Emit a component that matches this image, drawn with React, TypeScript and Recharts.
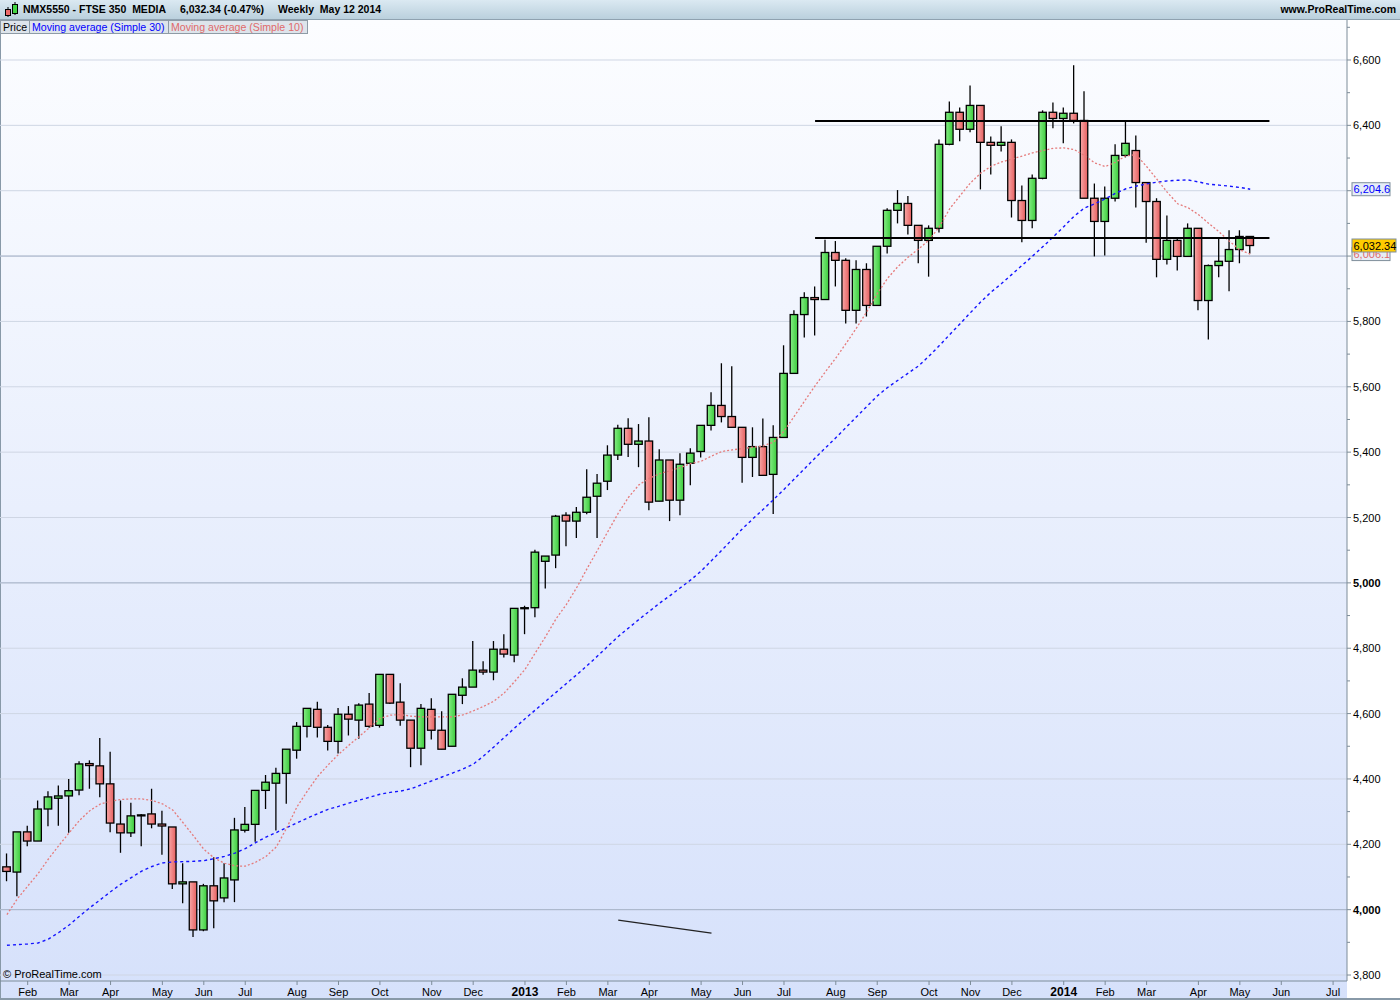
import React from 'react';
import { ComposedChart, Bar, Line, XAxis, YAxis, CartesianGrid, ReferenceLine } from 'recharts';

// weekly candles, first week starts Monday Jan 23 2012
const FIRST_WEEK = '2012-01-23';

const opens = [
  4131, 4115, 4238, 4210, 4308, 4341, 4348, 4366, 4447, 4440,
  4385, 4262, 4235, 4289, 4293, 4262, 4253, 4079, 4085, 3938,
  4073, 4036, 4091, 4243, 4261, 4365, 4387, 4417, 4488, 4561,
  4613, 4558, 4515, 4598, 4580, 4629, 4564, 4720, 4635, 4580,
  4494, 4613, 4549, 4500, 4656, 4681, 4733, 4727, 4797, 4779,
  4922, 4924, 5066, 5085, 5207, 5189, 5216, 5265, 5311, 5391,
  5473, 5424, 5434, 5250, 5376, 5253, 5366, 5402, 5482, 5543,
  5509, 5476, 5384, 5417, 5332, 5445, 5641, 5821, 5873, 5867,
  6011, 5987, 5834, 5959, 5849, 6030, 6140, 6161, 6094, 6048,
  6085, 6342, 6440, 6388, 6461, 6348, 6339, 6348, 6170, 6109,
  6238, 6440, 6421, 6437, 6415, 6177, 6106, 6177, 6308, 6323,
  6225, 6167, 5990, 6048, 5999, 6085, 5864, 5971, 5984, 6020,
  6060,
];
const highs = [
  4172, 4238, 4257, 4334, 4362, 4380, 4400, 4454, 4457, 4525,
  4483, 4334, 4327, 4293, 4370, 4303, 4253, 4142, 4085, 4079,
  4160, 4142, 4281, 4314, 4365, 4412, 4434, 4491, 4574, 4616,
  4636, 4565, 4617, 4623, 4632, 4663, 4720, 4720, 4693, 4580,
  4629, 4647, 4607, 4659, 4708, 4822, 4760, 4822, 4843, 4922,
  4930, 5101, 5082, 5208, 5216, 5232, 5348, 5333, 5421, 5484,
  5504, 5486, 5507, 5409, 5376, 5397, 5412, 5482, 5583, 5672,
  5663, 5476, 5476, 5503, 5482, 5727, 5834, 5889, 5907, 6050,
  6046, 5993, 5987, 5978, 6030, 6146, 6202, 6184, 6094, 6094,
  6357, 6473, 6455, 6522, 6461, 6366, 6397, 6357, 6216, 6250,
  6446, 6470, 6455, 6584, 6504, 6222, 6213, 6342, 6412, 6369,
  6225, 6177, 6124, 6054, 6100, 6085, 5974, 6054, 6079, 6079,
  6060,
];
const lows = [
  4087, 4041, 4194, 4210, 4255, 4257, 4235, 4350, 4370, 4344,
  4237, 4174, 4222, 4194, 4249, 4168, 4063, 4020, 3916, 3934,
  3943, 4023, 4023, 4236, 4208, 4308, 4242, 4324, 4462, 4527,
  4527, 4487, 4478, 4533, 4523, 4557, 4557, 4629, 4563, 4436,
  4442, 4521, 4491, 4500, 4629, 4681, 4719, 4702, 4772, 4757,
  4843, 4895, 4983, 5045, 5112, 5137, 5210, 5137, 5284, 5376,
  5385, 5354, 5222, 5250, 5189, 5207, 5299, 5384, 5466, 5491,
  5476, 5306, 5324, 5329, 5211, 5445, 5641, 5751, 5757, 5867,
  5907, 5794, 5794, 5815, 5849, 6008, 6100, 6066, 5978, 5937,
  6072, 6339, 6351, 6379, 6204, 6250, 6320, 6118, 6042, 6085,
  6235, 6391, 6345, 6406, 6177, 5999, 6002, 6167, 6302, 6149,
  6041, 5935, 5974, 5956, 5999, 5834, 5745, 5935, 5892, 5978,
  6008,
];
const closes = [
  4117, 4238, 4210, 4308, 4345, 4348, 4364, 4446, 4441, 4385,
  4265, 4235, 4287, 4290, 4262, 4256, 4079, 4085, 3938, 4073,
  4027, 4097, 4244, 4261, 4365, 4390, 4417, 4491, 4561, 4616,
  4558, 4515, 4598, 4583, 4626, 4561, 4720, 4632, 4580, 4494,
  4616, 4549, 4491, 4659, 4681, 4733, 4727, 4797, 4782, 4922,
  4924, 5094, 5082, 5204, 5189, 5216, 5262, 5305, 5391, 5473,
  5424, 5434, 5247, 5376, 5253, 5363, 5397, 5482, 5543, 5509,
  5476, 5384, 5417, 5329, 5445, 5641, 5821, 5873, 5867, 6011,
  5987, 5834, 5959, 5849, 6030, 6140, 6161, 6094, 6048, 6085,
  6342, 6440, 6388, 6461, 6348, 6339, 6348, 6170, 6109, 6238,
  6440, 6421, 6437, 6415, 6177, 6106, 6177, 6308, 6345, 6225,
  6167, 5990, 6048, 5999, 6085, 5864, 5971, 5984, 6020, 6060,
  6032.34,
];
// moving averages
const sma30 = [
  3891, 3893, 3895, 3898, 3910, 3930, 3953, 3980, 4006, 4030,
  4055, 4078, 4098, 4118, 4132, 4143, 4146, 4147, 4148, 4150,
  4156, 4163, 4173, 4187, 4205, 4222, 4236, 4251, 4266, 4280,
  4294, 4307, 4316, 4326, 4335, 4344, 4353, 4359, 4363, 4370,
  4382, 4394, 4406, 4418, 4430, 4445, 4470, 4498, 4527, 4556,
  4584, 4611, 4638, 4665, 4692, 4719, 4747, 4776, 4806, 4836,
  4862, 4888, 4913, 4938, 4961, 4985, 5009, 5036, 5068, 5100,
  5133, 5166, 5196, 5225, 5255, 5286, 5318, 5350, 5382, 5413,
  5444, 5476, 5508, 5540, 5572, 5598, 5620, 5642, 5664, 5694,
  5726, 5760, 5793, 5827, 5860, 5890, 5916, 5944, 5972, 6000,
  6029, 6059, 6090, 6122, 6147, 6160, 6175, 6192, 6206, 6214,
  6221, 6226, 6230, 6232, 6233, 6227, 6220, 6217, 6214, 6210,
  6204.6,
];
const sma10 = [
  3985, 4033, 4072, 4110, 4155, 4196, 4235, 4273, 4303, 4323,
  4332, 4337, 4339, 4339, 4334, 4324, 4305, 4266, 4226, 4185,
  4158, 4142, 4134, 4133, 4145, 4163, 4192, 4250, 4315, 4363,
  4408, 4443, 4475, 4503, 4530, 4557, 4585, 4595, 4597, 4592,
  4590, 4590, 4590, 4590, 4596, 4608, 4622, 4638, 4663, 4698,
  4735, 4786, 4836, 4890, 4934, 4986, 5044, 5100, 5157, 5213,
  5262, 5300, 5320, 5334, 5343, 5353, 5365, 5372, 5388, 5402,
  5407, 5411, 5415, 5419, 5431, 5464, 5510, 5557, 5603, 5646,
  5688, 5733, 5780, 5830, 5885, 5932, 5968, 5997, 6022, 6049,
  6090, 6145, 6185, 6224, 6254, 6275, 6288, 6297, 6306, 6316,
  6323, 6330, 6331, 6326, 6308, 6285, 6274, 6287, 6307, 6310,
  6274, 6235, 6195, 6160, 6148, 6127, 6100, 6074, 6045, 6019,
  6006.1,
];

const monthTickDates = [
  '2012-02-06', '2012-03-05', '2012-04-02', '2012-05-07', '2012-06-04', '2012-07-02',
  '2012-08-06', '2012-09-03', '2012-10-01', '2012-11-05', '2012-12-03', '2013-01-07',
  '2013-02-04', '2013-03-04', '2013-04-01', '2013-05-06', '2013-06-03', '2013-07-01',
  '2013-08-05', '2013-09-02', '2013-10-07', '2013-11-04', '2013-12-02', '2014-01-06',
  '2014-02-03', '2014-03-03', '2014-04-07', '2014-05-05', '2014-06-02', '2014-07-07',
];
const monthTickLabels = [
  'Feb', 'Mar', 'Apr', 'May', 'Jun', 'Jul', 'Aug', 'Sep', 'Oct', 'Nov', 'Dec', '2013',
  'Feb', 'Mar', 'Apr', 'May', 'Jun', 'Jul', 'Aug', 'Sep', 'Oct', 'Nov', 'Dec', '2014',
  'Feb', 'Mar', 'Apr', 'May', 'Jun', 'Jul',
];

const priceTicks = [
  3800, 3900, 4000, 4100, 4200, 4300, 4400, 4500, 4600, 4700, 4800, 4900, 5000, 5100,
  5200, 5300, 5400, 5500, 5600, 5700, 5800, 5900, 6000, 6100, 6200, 6300, 6400, 6500, 6600, 6700,
];
const gridLevels = [3800, 4000, 4200, 4400, 4600, 4800, 5000, 5200, 5400, 5600, 5800, 6000, 6200, 6400, 6600];
const strongLevels = [4000, 5000, 6000];

// drawn lines
const resistance = 6413;
const support = 6055;
const levelFrom = '2013-07-22';
const levelTo = '2014-05-25';
const trendFrom = { date: '2013-03-11', price: 3968 };
const trendTo = { date: '2013-05-13', price: 3928 };

const lastClose = 6032.34;
const lastSma30 = 6204.6;
const lastSma10 = 6006.1;
const tagValues = [lastClose, lastSma30, lastSma10];

const DAY0 = Date.parse('2012-01-01');
const toDay = (s: string) => (Date.parse(s) - DAY0) / 86400000;

const firstDay = toDay(FIRST_WEEK);
const candles = opens.map((o, i) => ({
  day: firstDay + i * 7,
  open: o,
  high: highs[i],
  low: lows[i],
  close: closes[i],
  range: [lows[i], highs[i]],
  ma30: sma30[i],
  ma10: sma10[i],
}));
const monthTicks = monthTickDates.map(toDay);

const FONT = '"Liberation Sans", Arial, sans-serif';
const AXIS = '#7d8c99';

const Candle = (props: any) => {
  const { x, y, width, height, payload } = props;
  if (x == null || y == null) return null;
  const { open, close, high, low } = payload;
  const top = Math.min(y, y + height);
  const h = Math.abs(height);
  const span = high - low || 1;
  const py = (v: number) => top + ((high - v) / span) * h;
  const cx = x + width / 2;
  const up = close >= open;
  const bTop = py(Math.max(open, close));
  const bBot = py(Math.min(open, close));
  return (
    <g>
      <line x1={cx} x2={cx} y1={top} y2={top + h} stroke="#000" strokeWidth={1.3} />
      <rect
        x={x}
        y={bTop}
        width={width}
        height={Math.max(bBot - bTop, 1)}
        fill={up ? 'url(#candleUp)' : 'url(#candleDown)'}
        stroke="#000"
        strokeWidth={1.3}
      />
    </g>
  );
};

const MonthTick = ({ x, y, payload }: any) => {
  const idx = monthTicks.indexOf(payload.value);
  const label = monthTickLabels[idx] ?? '';
  const isYear = /^\d{4}$/.test(label);
  return (
    <g>
      <line x1={x} x2={x} y1={y} y2={y + 4} stroke={AXIS} />
      <text
        x={x}
        y={y + 15}
        textAnchor="middle"
        fontFamily={FONT}
        fontSize={isYear ? 12 : 11}
        fontWeight={isYear ? 'bold' : 'normal'}
        fill="#000"
      >
        {label}
      </text>
    </g>
  );
};

const PriceTick = ({ x, y, payload }: any) => {
  const v = payload.value;
  const major = v % 200 === 0;
  // labels sitting under a last-value tag are covered in the original
  const covered = tagValues.some((t) => Math.abs(t - v) < 25);
  return (
    <g>
      <line x1={x} x2={x + (major ? 4 : 3)} y1={y} y2={y} stroke={AXIS} />
      {major && !covered && (
        <text
          x={x + 6}
          y={y + 4}
          fontFamily={FONT}
          fontSize={11}
          fontWeight={v % 1000 === 0 ? 'bold' : 'normal'}
          fill="#000"
        >
          {v.toLocaleString('en-US')}
        </text>
      )}
    </g>
  );
};

const PriceTag = ({ viewBox, text, fill, color, w }: any) => {
  if (!viewBox) return null;
  const x = viewBox.x + viewBox.width + 5;
  const y = viewBox.y;
  return (
    <g>
      <rect x={x} y={y - 6.5} width={w} height={13} fill={fill} stroke="#7f8e9b" />
      <text x={x + 1.5} y={y + 4} fontFamily={FONT} fontSize={11} fill={color}>
        {text}
      </text>
    </g>
  );
};

const legendBox: React.CSSProperties = {
  position: 'absolute',
  top: 20,
  height: 14,
  border: '1px solid #8e9ba6',
  background: '#dde4eb',
  fontSize: 10.6,
  lineHeight: '12px',
  paddingLeft: 2,
  boxSizing: 'border-box',
  whiteSpace: 'pre',
  overflow: 'hidden',
};

export default function App() {
  return (
    <div style={{ position: 'absolute', left: 0, top: 0, width: 1400, height: 1000, fontFamily: FONT, overflow: 'hidden', background: '#fff' }}>
      {/* plot background */}
      <div
        style={{
          position: 'absolute', left: 0, top: 20, width: 1347, height: 978,
          background: 'linear-gradient(#fcfdff, #d6e1fb)',
        }}
      />
      <div style={{ position: 'absolute', left: 0, top: 20, width: 1, height: 980, background: '#8899a8' }} />
      <div style={{ position: 'absolute', left: 0, top: 998, width: 1400, height: 2, background: '#8899a8' }} />

      <div style={{ position: 'absolute', left: 0, top: 0 }}>
        <ComposedChart width={1400} height={1000} data={candles} margin={{ top: 20, right: 0, bottom: 0, left: 0 }}>
          <defs>
            <linearGradient id="candleUp" x1="0" y1="0" x2="1" y2="0">
              <stop offset="0%" stopColor="#86ee86" />
              <stop offset="100%" stopColor="#3ccb3c" />
            </linearGradient>
            <linearGradient id="candleDown" x1="0" y1="0" x2="1" y2="0">
              <stop offset="0%" stopColor="#f8a8a8" />
              <stop offset="100%" stopColor="#e65f5f" />
            </linearGradient>
          </defs>
          <CartesianGrid vertical={false} horizontalValues={gridLevels} stroke="#cfd6e4" />
          <CartesianGrid vertical={false} horizontalValues={strongLevels} stroke="#a7b3c8" />
          <XAxis
            dataKey="day"
            type="number"
            domain={[17.3, 927.4]}
            allowDataOverflow
            ticks={monthTicks}
            interval={0}
            tick={<MonthTick />}
            tickLine={false}
            tickSize={0}
            tickMargin={0}
            height={19}
            axisLine={{ stroke: AXIS }}
          />
          <YAxis
            orientation="right"
            type="number"
            domain={[3781.7, 6722.4]}
            allowDataOverflow
            ticks={priceTicks}
            interval={0}
            tick={<PriceTick />}
            tickLine={false}
            tickSize={0}
            tickMargin={0}
            width={53}
            axisLine={{ stroke: AXIS }}
          />
          <Bar dataKey="range" barSize={7.5} shape={Candle} isAnimationActive={false} />
          <Line
            dataKey="ma30"
            type="linear"
            stroke="#1414ff"
            strokeWidth={1.4}
            strokeDasharray="3 3"
            dot={false}
            activeDot={false}
            isAnimationActive={false}
          />
          <Line
            dataKey="ma10"
            type="linear"
            stroke="#e57b7b"
            strokeWidth={1.3}
            strokeDasharray="2 2"
            dot={false}
            activeDot={false}
            isAnimationActive={false}
          />
          <ReferenceLine
            segment={[{ x: toDay(levelFrom), y: resistance }, { x: toDay(levelTo), y: resistance }]}
            stroke="#000"
            strokeWidth={2}
          />
          <ReferenceLine
            segment={[{ x: toDay(levelFrom), y: support }, { x: toDay(levelTo), y: support }]}
            stroke="#000"
            strokeWidth={2}
          />
          <ReferenceLine
            segment={[{ x: toDay(trendFrom.date), y: trendFrom.price }, { x: toDay(trendTo.date), y: trendTo.price }]}
            stroke="#222"
            strokeWidth={1.2}
          />
          <ReferenceLine
            y={lastSma10}
            stroke="none"
            label={<PriceTag text={lastSma10.toLocaleString('en-US')} fill="#e6edf6" color="#e06a6a" w={38} />}
          />
          <ReferenceLine
            y={lastSma30}
            stroke="none"
            label={<PriceTag text={lastSma30.toLocaleString('en-US')} fill="#e6edf6" color="#0000ff" w={38} />}
          />
          <ReferenceLine
            y={lastClose}
            stroke="none"
            label={<PriceTag text={lastClose.toLocaleString('en-US')} fill="#ffcc00" color="#000" w={44} />}
          />
        </ComposedChart>
      </div>

      {/* title bar */}
      <div
        style={{
          position: 'absolute', left: 0, top: 0, width: 1400, height: 19,
          background: 'linear-gradient(#dbe9f2, #bad0dd)', borderBottom: '1px solid #8fa2b0',
          fontSize: 10.5, fontWeight: 'bold', lineHeight: '19px', whiteSpace: 'pre',
        }}
      >
        <svg width={16} height={17} style={{ position: 'absolute', left: 3, top: 1 }}>
          <line x1={5} x2={5} y1={6} y2={16} stroke="#000" />
          <rect x={2.5} y={8.5} width={5} height={6} fill="#ee6a6a" stroke="#000" />
          <line x1={12} x2={12} y1={1} y2={14} stroke="#000" />
          <rect x={9.5} y={3.5} width={5} height={9} fill="#44d444" stroke="#000" />
        </svg>
        <span style={{ position: 'absolute', left: 23 }}>NMX5550 - FTSE 350  MEDIA</span>
        <span style={{ position: 'absolute', left: 180 }}>6,032.34 (-0.47%)</span>
        <span style={{ position: 'absolute', left: 278 }}>Weekly  May 12 2014</span>
        <span style={{ position: 'absolute', right: 4 }}>www.ProRealTime.com</span>
      </div>

      {/* legend row */}
      <div style={{ ...legendBox, left: 0, width: 30, color: '#000' }}>Price</div>
      <div style={{ ...legendBox, left: 29, width: 140, color: '#0000ff' }}>Moving average (Simple 30)</div>
      <div style={{ ...legendBox, left: 168, width: 140, color: '#e06a6a' }}>Moving average (Simple 10)</div>

      <div style={{ position: 'absolute', left: 3, top: 968, fontSize: 11, color: '#000' }}>© ProRealTime.com</div>
    </div>
  );
}
